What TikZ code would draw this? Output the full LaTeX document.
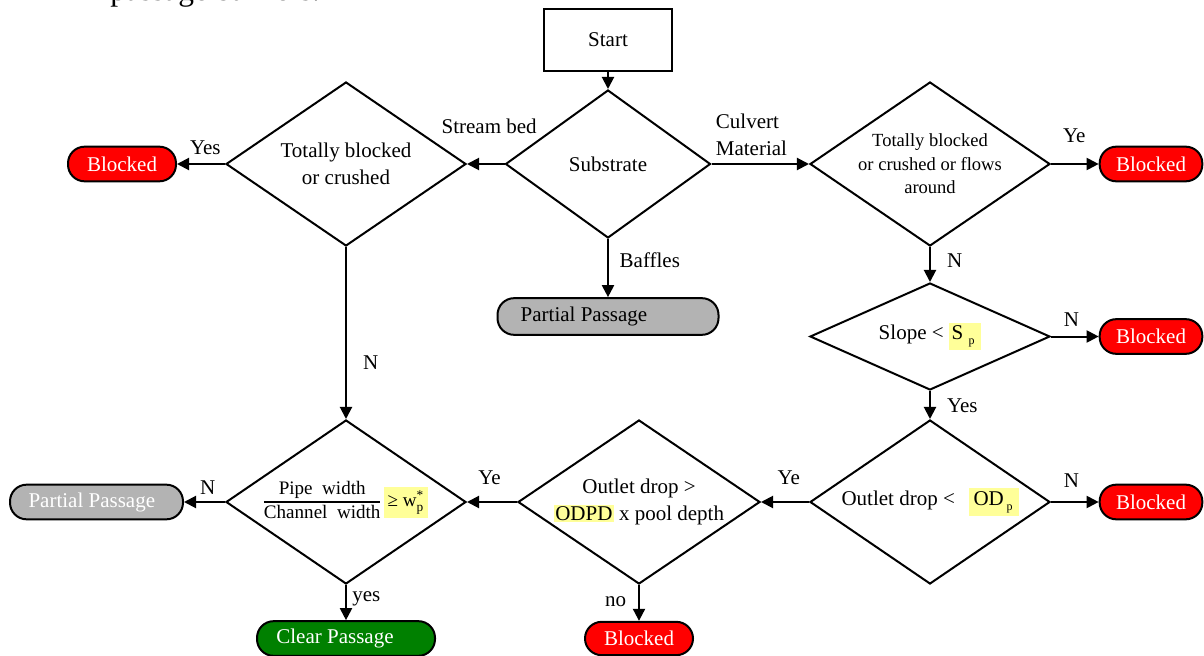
\documentclass[tikz,border=0pt]{standalone}
\usepackage{fontspec}
\setmainfont{Liberation Serif}
\usepackage{amsmath}
\usepackage{xcolor}
\usetikzlibrary{shapes.geometric,arrows.meta}

\definecolor{blockedred}{RGB}{255,0,0}
\definecolor{partialgray}{RGB}{179,179,179}
\definecolor{cleargreen}{RGB}{0,128,0}
\definecolor{hilite}{RGB}{255,255,153}

\newcommand{\hilit}[2][2pt]{{\setlength{\fboxsep}{#1}\colorbox{hilite}{#2}}}
\newcommand{\subp}{\raisebox{-4pt}{\fontsize{9pt}{9pt}\selectfont p}}

\tikzset{
    every node/.style={font=\fontsize{15.75pt}{20.5pt}\selectfont},
    startbox/.style={draw, line width=1.5pt, minimum width=96pt, minimum height=46.5pt},
    decision/.style={diamond, draw, line width=1.5pt, inner sep=0pt, aspect=1.45, align=center},
    pill/.style={draw, line width=1.5pt, rounded corners=12.5pt, minimum height=26pt, inner sep=0pt},
    blockedpill/.style={pill, fill=blockedred, text=white, minimum width=77pt},
    partialpill/.style={pill, fill=partialgray},
    clearpill/.style={pill, fill=cleargreen, text=white},
    lbl/.style={inner sep=2pt},
}

\begin{document}
\begin{tikzpicture}[x=0.75pt, y=-0.75pt]
    \useasboundingbox (0,0) rectangle (1204,656);
    \node[anchor=base west, inner sep=0pt, font=\fontsize{23.6pt}{28pt}\selectfont] at (110,0.5) (heading) {passage barriers.};
    % top row
    \node[startbox] at (608,40) (start) {Start};
    \node[decision, minimum width=153.75pt, minimum height=111pt] at (608,164) (substrate) {Substrate};
    \node[decision, minimum width=180pt, minimum height=123pt] at (346,164) (bedcheck) {Totally blocked\\or crushed};
    \node[blockedpill, minimum width=81pt] at (122,164) (bedblocked) {Blocked};
    \node[partialpill, minimum width=165.75pt, minimum height=27.5pt] at (608,316.5) (bafflepartial) {Partial Passage\hspace*{36pt}};
    \node[decision, minimum width=180pt, minimum height=123pt, font=\fontsize{13.9pt}{17.6pt}\selectfont] at (930,164) (culvertcheck) {Totally blocked\\or crushed or flows\\around};
    \node[blockedpill] at (1151,164) (culvertblocked) {Blocked};
    % right column
    \node[decision, minimum width=180pt, minimum height=80.25pt] at (930,336.5) (slopecheck) {Slope < \hilit{S\hspace{4pt}\subp\hspace{3pt}}};
    \node[blockedpill] at (1151,336.5) (slopeblocked) {Blocked};
    \node[decision, minimum width=180pt, minimum height=123pt] at (930,502) (odcheck) {Outlet drop <\hspace{10.5pt}\hilit{\hspace{1.5pt}OD\hspace{2pt}\subp\hspace{2.5pt}}};
    \node[blockedpill] at (1151,502) (odblocked) {Blocked};
    % bottom row
    \node[decision, minimum width=181.5pt, minimum height=123pt] at (639,502) (dropcheck) {Outlet drop >\\\hilit[1pt]{ODPD} x pool depth};
    \node[blockedpill, minimum width=81pt, minimum height=25pt] at (639,638.5) (dropblocked) {Blocked};
    \node[decision, minimum width=180pt, minimum height=123pt, font=\fontsize{14.3pt}{17pt}\selectfont] at (346,502) (pipecheck) {{\setlength{\arrayrulewidth}{1.3pt}\begin{tabular}{@{}c@{}}Pipe\ \ width\\\hline Channel\ \ width\end{tabular}}\,\hilit[3pt]{≥ w$^{\text{*}}_{\text{p}}$}};
    \node[partialpill, text=white, minimum width=129.75pt] at (96.5,502) (pipepartial) {Partial Passage\hspace*{7pt}};
    \node[clearpill, minimum width=133.5pt] at (346,638.5) (clearpass) {Clear Passage\hspace*{16.5pt}};
    \path[->, line width=1.5pt, >={Triangle[length=9pt,width=9pt]}]
    (start) edge (substrate)
    (substrate) edge node[lbl, pos=0.41, above=20pt] {Stream bed} (bedcheck)
    (substrate) edge node[lbl, pos=0.41, above=3.5pt, align=left] {Culvert\\Material} (culvertcheck)
    (substrate) edge node[lbl, pos=0.37, right=6pt] {Baffles} (bafflepartial)
    (bedcheck) edge node[lbl, pos=0.41, above=4pt] {Yes} (bedblocked)
    (bedcheck) edge node[lbl, pos=0.67, right=10pt] {N} (pipecheck)
    (pipecheck) edge node[lbl, pos=0.42, above=3pt] {N} (pipepartial)
    (pipecheck) edge node[lbl, pos=0.4, right=2pt] {yes} (clearpass)
    (dropcheck) edge node[lbl, pos=0.55, above=10.5pt] {Ye} (pipecheck)
    (dropcheck) edge node[lbl, pos=0.47, left=7pt] {no} (dropblocked)
    (odcheck) edge node[lbl, pos=0.42, above=10.5pt] {Ye} (dropcheck)
    (odcheck) edge node[lbl, pos=0.43, above=8.5pt] {N} (odblocked)
    (slopecheck) edge node[lbl, pos=0.43, above=4.5pt] {N} (slopeblocked)
    (slopecheck) edge node[lbl, pos=0.53, right=10pt] {Yes} (odcheck)
    (culvertcheck) edge node[lbl, pos=0.39, right=10pt] {N} (slopecheck)
    (culvertcheck) edge node[lbl, pos=0.49, above=13pt] {Ye} (culvertblocked)
    ;
\end{tikzpicture}
\end{document}
